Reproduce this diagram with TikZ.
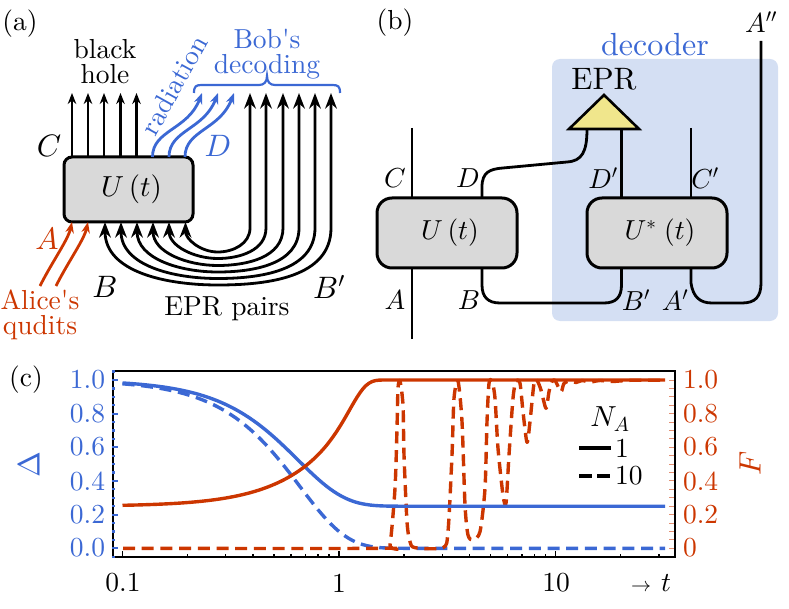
\documentclass[tikz,border=0pt]{standalone}
\usepackage{amsmath}
\usepackage{fontspec}
\setmainfont{lmroman10-regular.otf}
\DeclareFontShape{OML}{cmm}{m}{it}{<-> cmmi10}{\skewchar\font127 }
\DeclareFontShape{OMS}{cmsy}{m}{n}{<-> cmsy10}{\skewchar\font48 }
\DeclareFontShape{OT1}{cmr}{m}{n}{<-> cmr10}{}
\usepackage{tikz}
\usetikzlibrary{arrows.meta}
\newcommand{\bigtext}{\fontsize{27.5}{25}\selectfont}
\newcommand{\hugetext}{\fontsize{31}{31}\selectfont}

\tikzset{
  every node/.style={font=\bigtext, inner sep=0pt, outer sep=0pt},
  biglabel/.style={font=\hugetext},
  wire/.style={line width=2.8pt},
  tipped/.style={wire, -{Stealth[length=11pt,width=8.5pt]}},
  gate/.style={draw, line width=3pt, fill=colorgate, inner sep=0pt},
  curve/.style={line width=3.4pt, line join=round},
  dashcurve/.style={curve, dash pattern=on 12pt off 6.7pt},
}

\begin{document}
\begin{tikzpicture}[x=1pt,y=-1pt]
  \definecolor{colorblue}{RGB}{59,104,212}
  \definecolor{colorred}{RGB}{204,54,0}
  \definecolor{colorgate}{RGB}{217,217,217}
  \definecolor{colordecoder}{RGB}{212,223,243}
  \definecolor{coloryellow}{RGB}{240,230,140}

  \useasboundingbox (0,0) rectangle (789,609);

  % panel a
  \node at (20,24) {(a)};
  \node[gate, rounded corners=8pt, minimum width=129pt, minimum height=65pt] (boxa) at (128.5,189.5) {\hspace{6pt}\fontsize{29}{29}\selectfont$U\,(t)$};

  \coordinate (c1) at (72,93);
  \coordinate (c2) at (88,93);
  \coordinate (c3) at (104,93);
  \coordinate (c4) at (120.5,93);
  \coordinate (c5) at (136.5,93);
  \draw[tipped] (c1 |- boxa.north) -- (c1);
  \draw[tipped] (c2 |- boxa.north) -- (c2);
  \draw[tipped] (c3 |- boxa.north) -- (c3);
  \draw[tipped] (c4 |- boxa.north) -- (c4);
  \draw[tipped] (c5 |- boxa.north) -- (c5);

  \coordinate (d1) at (202,93);
  \coordinate (d2) at (218,93);
  \coordinate (d3) at (234,93);
  \draw[tipped, colorblue] (152.5,157) .. controls (152.5,130) and (188,130) .. (d1);
  \draw[tipped, colorblue] (169,157) .. controls (169,130) and (204,130) .. (d2);
  \draw[tipped, colorblue] (185,157) .. controls (185,130) and (220,130) .. (d3);

  \coordinate (a1) at (72,222);
  \coordinate (a2) at (88,222);
  \draw[tipped, colorred] (40,286) .. controls (52,262) and (68,240) .. (a1);
  \draw[tipped, colorred] (56,286) .. controls (68,262) and (84,240) .. (a2);

  \coordinate (r1) at (250,93);
  \coordinate (r2) at (266,93);
  \coordinate (r3) at (283,93);
  \coordinate (r4) at (299,93);
  \coordinate (r5) at (315,93);
  \coordinate (r6) at (331,93);
  \coordinate (b1) at (185.5,222);
  \coordinate (b2) at (169,222);
  \coordinate (b3) at (153,222);
  \coordinate (b4) at (137,222);
  \coordinate (b5) at (121,222);
  \coordinate (b6) at (105,222);
  \coordinate (m1) at (217.8,252);
  \coordinate (m2) at (217.8,258.5);
  \coordinate (m3) at (217.8,265.5);
  \coordinate (m4) at (217.8,272);
  \coordinate (m5) at (217.8,278.5);
  \coordinate (m6) at (217.8,285);
  \draw[tipped, Stealth-Stealth] (r1) -- (250,228) to[out=-90,in=0] (m1) to[out=180,in=-90] (b1);
  \draw[tipped, Stealth-Stealth] (r2) -- (266,228) to[out=-90,in=0] (m2) to[out=180,in=-90] (b2);
  \draw[tipped, Stealth-Stealth] (r3) -- (283,228) to[out=-90,in=0] (m3) to[out=180,in=-90] (b3);
  \draw[tipped, Stealth-Stealth] (r4) -- (299,228) to[out=-90,in=0] (m4) to[out=180,in=-90] (b4);
  \draw[tipped, Stealth-Stealth] (r5) -- (315,228) to[out=-90,in=0] (m5) to[out=180,in=-90] (b5);
  \draw[tipped, Stealth-Stealth] (r6) -- (331,228) to[out=-90,in=0] (m6) to[out=180,in=-90] (b6);

  \draw[colorblue, line width=2.2pt] (194,93) .. controls (194,86) and (196,85) .. (202,85) -- (259,85) .. controls (264,85) and (267,82) .. (267,76) .. controls (267,82) and (270,85) .. (275,85) -- (332,85) .. controls (338,85) and (340,86) .. (340,93);

  \node[align=center] (blackhole) at (105,62) {black\\hole};
  \node[colorblue, rotate=61] (radiation) at (174,85) {radiation};
  \node[colorblue, align=center] (bobs) at (267,54) {Bob\textquotesingle s\\decoding};
  \node[biglabel] (labelc) at (49,146) {$C$};
  \node[biglabel, colorblue] (labeld) at (218,146) {$D$};
  \node[biglabel, colorred] (labela) at (47,239) {$A$};
  \node[biglabel] (labelb) at (105,287) {$B$};
  \node[biglabel] (labelbp) at (329,287) {$B'$};
  \node (epr) at (227,309) {EPR pairs};
  \node[colorred, align=center] (alice) at (40,315) {Alice\textquotesingle s\\qudits};

  % panel b
  \fill[colordecoder, rounded corners=8pt] (552,59) rectangle (778,321);
  \node at (395,23) {(b)};
  \node[colorblue] (decoder) at (655,45) {\fontsize{32}{32}\selectfont decoder};
  \node[biglabel] (eprb) at (604,79) {EPR};
  \draw[line width=2.6pt, fill=coloryellow, line join=miter] (569,129) -- (604,95) -- (639,129) -- cycle;
  \coordinate (epr1) at (587,129);
  \coordinate (epr2) at (621.5,129);

  \node[gate, rounded corners=15pt, minimum width=140pt, minimum height=70pt] (ub) at (447,233) {\hspace{6pt}$U\,(t)$};
  \node[gate, rounded corners=15pt, minimum width=140pt, minimum height=70pt] (us) at (657,233) {\hspace{6pt}$U^{*}\;(t)$};

  \coordinate (ctop) at (412,128);
  \coordinate (abot) at (412,339);
  \coordinate (cptop) at (691,128);
  \coordinate (adp) at (761,41);
  \draw[wire] (ctop) -- (ctop |- ub.north);
  \draw[wire] (abot) -- (abot |- ub.south);
  \draw[wire] (482,198) -- (482,187) .. controls (482,172) and (490,169) .. (503,168) -- (567,162) .. controls (582,161) and (587,152) .. (epr1);
  \draw[wire] (epr2) -- (epr2 |- us.north);
  \draw[wire] (cptop) -- (cptop |- us.north);
  \draw[wire] (482,268) -- (482,285) .. controls (482,297) and (488,303) .. (500,303) -- (604,303) .. controls (616,303) and (621.5,297) .. (621.5,285) -- (621.5,268);
  \draw[wire] (691,268) -- (691,283) .. controls (693,297) and (700,303) .. (712,303) -- (742,303) .. controls (755,303) and (761,297) .. (761,283) -- (adp);

  \node (lc) at (395,178) {$C$};
  \node (ld) at (468,178) {$D$};
  \node (la) at (395,300) {$A$};
  \node (lb) at (469,300) {$B$};
  \node (ldp) at (603,178) {$D'$};
  \node (lcp) at (705,178) {$C'$};
  \node (lbp) at (636,300) {$B'$};
  \node (lap) at (675,300) {$A'$};
  \node (lapp) at (761,22) {$A''$};

  % panel c
  \node at (26,380) {(c)};
  \draw[dashcurve, colorblue] plot[domain=-1:0.5, samples=90, smooth] ({339+216.5*\x},{548.3-168.3*exp(-2.3*pow(10,2*\x))}) -- (665,548.3);
  \draw[dashcurve, colorred] plot[smooth, tension=0.45] coordinates {(123,548.3) (385,548.3) (390,545) (395,488.3) (397,428.3) (398,388.3) (400,381) (403,405) (404,455) (407,521.7) (410,541.7) (415,547.7) (443,547.7) (448,531.7) (452,455) (454,398.3) (458,381) (462,421.7) (465,505) (468,535) (473,540) (480,531.7) (485,488.3) (487,421.7) (489,383.3) (492,381) (495,398.3) (498,448.3) (503,495) (506,503.3) (509,455) (513,398.3) (516,381) (520,383.3) (523,411.7) (527,442.3) (530,421.7) (534,383.3) (537,380.3) (541,390) (546,408.3) (549,391.7) (552,381.7) (555,380.3) (561,391.7) (564,383.3) (570,381) (576,382.5) (582,380.5) (590,382) (600,380.5) (612,381.5) (630,380.3) (665,380.3)};
  \draw[curve, colorblue] plot[domain=-1:0.5, samples=90, smooth] ({339+216.5*\x},{548.3-168.3*(0.25+0.75*exp(-2.4*pow(10,2*\x)))}) -- (665,506.2);
  \draw[curve, colorred] plot[domain=-1:0.3, samples=90, smooth] ({339+216.5*\x},{548.3-168.3*(1-0.75*exp(-0.75*pow(10,2*\x)-0.22*pow(10,7.3*\x)))}) -- (665,380);

  \foreach \v in {0,1,...,20} {
    \draw[colorred!55, line width=1pt] (669,{548.3-8.415*\v}) -- (674,{548.3-8.415*\v});
  }
  \foreach \k in {-1,0} {
    \foreach \d in {2,...,9} {
      \pgfmathsetmacro{\px}{339+216.5*(\k+log10(\d))}
      \draw[line width=1.4pt] (\px,557) -- (\px,553.5);
    }
  }
  \foreach \k in {-1,0,1} {
    \pgfmathsetmacro{\px}{339+216.5*\k}
    \draw[line width=1.6pt] (\px,557) -- (\px,551);
  }
  \foreach \d in {2,3} {
    \pgfmathsetmacro{\px}{339+216.5*(1+log10(\d))}
    \draw[line width=1.4pt] (\px,557) -- (\px,553.5);
  }
  \draw[line width=2.4pt] (113,371) rectangle (675,557);
  \foreach \v in {-1,0,...,21} {
    \draw[colorblue, line width=2.2pt] (112,{548.3-8.415*\v}) -- (115,{548.3-8.415*\v});
  }
  \foreach \v in {0,4,...,20} {
    \draw[colorblue, line width=2pt] (112,{548.3-8.415*\v}) -- (117.5,{548.3-8.415*\v});
  }

  \node[colorblue, anchor=east] at (105,380) {1.0};
  \node[colorblue, anchor=east] at (105,414) {0.8};
  \node[colorblue, anchor=east] at (105,447) {0.6};
  \node[colorblue, anchor=east] at (105,481) {0.4};
  \node[colorblue, anchor=east] at (105,515) {0.2};
  \node[colorblue, anchor=east] at (105,548) {0.0};
  \node[colorred, anchor=west] at (683,380) {1.0};
  \node[colorred, anchor=west] at (683,414) {0.8};
  \node[colorred, anchor=west] at (683,447) {0.6};
  \node[colorred, anchor=west] at (683,481) {0.4};
  \node[colorred, anchor=west] at (683,515) {0.2};
  \node[colorred, anchor=west] at (683,548) {0};
  \node[biglabel, colorblue, rotate=90] (delta) at (29,465) {$\Delta$};
  \node[biglabel, colorred, rotate=90] (fid) at (750,463) {$F$};

  \node at (123,583) {0.1};
  \node at (339,583) {1};
  \node at (556,583) {10};
  \node[anchor=east] at (671,583) {\fontsize{20}{20}\selectfont$\rightarrow$\hspace{10pt}\bigtext$t$};

  \node[font=\fontsize{29}{29}\selectfont] (na) at (610,419) {$N_A$};
  \coordinate (sa) at (579,448);
  \coordinate (sb) at (611,448);
  \coordinate (da) at (579,476);
  \coordinate (db) at (611,476);
  \draw[curve] (sa) -- (sb);
  \draw[curve, dash pattern=on 13pt off 5pt] (da) -- (db);
  \node[anchor=west] (one) at (615,448) {1};
  \node[anchor=west] (ten) at (615,476) {10};
\end{tikzpicture}
\end{document}
